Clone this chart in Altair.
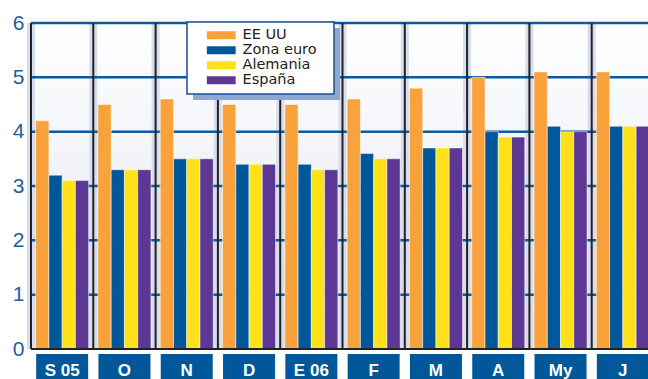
import altair as alt
import pandas as pd

# Months (Sept 2005 - June 2006) and the four series
meses = ["S 05", "O", "N", "D", "E 06", "F", "M", "A", "My", "J"]
series = ["EE UU", "Zona euro", "Alemania", "España"]
colores = ["#f9a13a", "#00589b", "#ffe11a", "#5d3794"]

ee_uu = [4.2, 4.5, 4.6, 4.5, 4.5, 4.6, 4.8, 5.0, 5.1, 5.1]
zona_euro = [3.2, 3.3, 3.5, 3.4, 3.4, 3.6, 3.7, 4.0, 4.1, 4.1]
alemania = [3.1, 3.3, 3.5, 3.4, 3.3, 3.5, 3.7, 3.9, 4.0, 4.1]
espana = [3.1, 3.3, 3.5, 3.4, 3.3, 3.5, 3.7, 3.9, 4.0, 4.1]

ticks_y = [0, 1, 2, 3, 4, 5, 6]

W, H = 617, 326

rows = []
for nombre, vals in zip(series, [ee_uu, zona_euro, alemania, espana]):
    for m, v in zip(meses, vals):
        rows.append({"mes": m, "serie": nombre, "valor": v})
df = pd.DataFrame(rows)
df_mes = pd.DataFrame({"mes": meses})
df_grid = pd.DataFrame({"valor": ticks_y[1:]})
one = pd.DataFrame({"k": [0]})

x_scale = alt.Scale(domain=meses, range=[0, 623], paddingInner=0, paddingOuter=0)
y_scale = alt.Scale(domain=[0, 6], nice=False)
y_axis = alt.Axis(values=ticks_y, title=None, domain=False, ticks=False, grid=False,
                  labelFontSize=21, labelColor="#1d5e9e", labelPadding=7,
                  labelFont="Liberation Sans")

# soft vertical gradient behind the plot
fondo = alt.Chart(one).mark_rect(
    color=alt.Gradient(
        gradient="linear", x1=0, y1=0, x2=0, y2=1,
        stops=[alt.GradientStop(color="#ffffff", offset=0),
               alt.GradientStop(color="#e1e5f0", offset=1)],
    )
).encode(x=alt.value(0), x2=alt.value(W), y=alt.value(0), y2=alt.value(H))

# horizontal blue grid lines
grid = alt.Chart(df_grid).mark_rule(color="#0b5a9d", strokeWidth=2.5).encode(
    y=alt.Y("valor:Q", scale=y_scale, axis=y_axis),
    x=alt.value(0), x2=alt.value(W),
)

# month separators: pale halo + dark line at the start of each band
halo = alt.Chart(df_mes).mark_rule(color="#d8ddee", strokeWidth=8).encode(
    x=alt.X("mes:N", scale=x_scale, bandPosition=0, axis=None),
    y=alt.value(0), y2=alt.value(H),
)
sep = alt.Chart(df_mes).mark_rule(color="#222222", strokeWidth=2).encode(
    x=alt.X("mes:N", scale=x_scale, bandPosition=0, axis=None),
    y=alt.value(0), y2=alt.value(H),
)

# legend frame with drop shadow
sombra = alt.Chart(one).mark_rect(color="#8fa8d0").encode(
    x=alt.value(162), x2=alt.value(309), y=alt.value(5), y2=alt.value(77)
)
marco = alt.Chart(one).mark_rect(fill="#ffffff", stroke="#1b4f8c", strokeWidth=1.5).encode(
    x=alt.value(156), x2=alt.value(303), y=alt.value(-1), y2=alt.value(71)
)

barras = alt.Chart(df).mark_bar(stroke="#ffffff", strokeOpacity=0.5, strokeWidth=1).encode(
    x=alt.X("mes:N", scale=x_scale, axis=None),
    xOffset=alt.XOffset("serie:N", sort=series,
                        scale=alt.Scale(domain=series, paddingInner=0, paddingOuter=0.35)),
    y=alt.Y("valor:Q", scale=y_scale, axis=y_axis),
    color=alt.Color("serie:N", scale=alt.Scale(domain=series, range=colores),
                    legend=alt.Legend(
                        title=None, orient="none", legendX=160, legendY=5,
                        padding=0, strokeColor="transparent",
                        symbolType="M-3.6,-1H3.6V1H-3.6Z", symbolSize=64,
                        symbolStrokeWidth=0, symbolOpacity=1, symbolOffset=23,
                        labelOffset=14, labelFontSize=14.5, labelFont="DejaVu Sans",
                        labelColor="#222222", rowPadding=0,
                    )),
)

eje_x = alt.Chart(one).mark_rule(color="#222222", strokeWidth=2).encode(
    x=alt.value(0), x2=alt.value(W), y=alt.value(H)
)

cajas = alt.Chart(df_mes).mark_bar(size=52, color="#00589b").encode(
    x=alt.X("mes:N", scale=x_scale, axis=None),
    y=alt.value(H + 5), y2=alt.value(H + 30),
)
etiquetas = alt.Chart(df_mes).mark_text(
    color="#ffffff", fontSize=17, fontWeight="bold", font="Liberation Sans",
    baseline="alphabetic",
).encode(
    x=alt.X("mes:N", scale=x_scale, axis=None),
    y=alt.value(H + 27),
    text="mes:N",
)

chart = alt.layer(
    fondo, halo, grid, sep, barras, eje_x, cajas, etiquetas, sombra, marco
).properties(
    width=W, height=H,
    autosize=alt.AutoSizeParams(type="none"),
    padding={"left": 31, "top": 23, "right": 0, "bottom": 30},
).configure_view(stroke=None).configure(background="#ffffff")

chart.save("out.html", embed_options={"renderer": "svg", "actions": False})
